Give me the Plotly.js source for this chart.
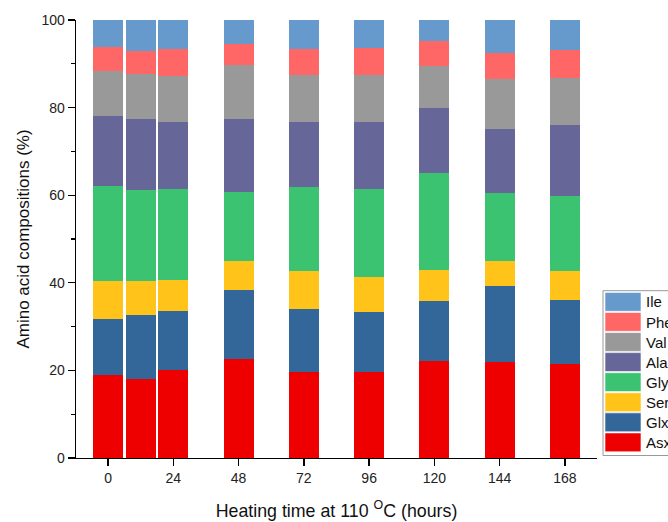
<!DOCTYPE html>
<html>
<head>
<meta charset="utf-8">
<script src="https://cdn.plot.ly/plotly-3.0.1.min.js"></script>
<style>html,body{margin:0;padding:0;background:#fff;}#chart{width:668px;height:522px;}</style>
</head>
<body>
<div id="chart"></div>
<script>
// Heating time (hours) of each bar
const hours = [0, 12, 24, 48, 72, 96, 120, 144, 168];
const tickHours = [0, 24, 48, 72, 96, 120, 144, 168];

// Amino acid composition (%) per heating time, bottom to top of stack
const asx = [18.9, 18.1, 20.0, 22.6, 19.6, 19.6, 22.2, 21.9, 21.5];
const glx = [12.8, 14.6, 13.6, 15.7, 14.4, 13.8, 13.7, 17.3, 14.6];
const ser = [8.8, 7.6, 7.1, 6.6, 8.8, 8.0, 7.1, 5.7, 6.5];
const gly = [21.7, 21.0, 20.7, 15.9, 19.1, 20.1, 22.1, 15.6, 17.3];
const ala = [15.9, 16.1, 15.3, 16.7, 14.8, 15.1, 14.9, 14.6, 16.1];
const val = [10.3, 10.3, 10.6, 12.2, 10.7, 10.8, 9.4, 11.4, 10.8];
const phe = [5.5, 5.2, 6.0, 4.9, 5.9, 6.2, 5.7, 6.0, 6.4];
const ile = [6.1, 7.1, 6.7, 5.4, 6.7, 6.4, 4.9, 7.5, 6.8];

const seriesNames = ['Asx', 'Glx', 'Ser', 'Gly', 'Ala', 'Val', 'Phe', 'Ile'];
const seriesValues = [asx, glx, ser, gly, ala, val, phe, ile];
const seriesColors = ['#EE0000', '#336699', '#FFC31A', '#3CC371', '#666699', '#999999', '#FF6666', '#6699CC'];

const traces = seriesNames.map((n, i) => ({
  type: 'bar',
  name: n,
  x: hours,
  y: seriesValues[i],
  width: 11,
  marker: {color: seriesColors[i], line: {width: 0}},
  showlegend: false,
  hoverinfo: 'x+y+name'
}));

// plot area in pixels
const W = 668, H = 522;
const L = 76, R = 597, T = 20, B = 458.5;
const px2x = p => (p - L) / (R - L);
const px2y = p => (B - p) / (B - T);

// custom legend (top to bottom: reverse of stacking order)
const shapes = [];
const annotations = [];
const legLeft = 603, legTop = 291, legBottom = 456, itemH = 20.1;
shapes.push({type: 'rect', xref: 'paper', yref: 'paper',
  x0: px2x(legLeft), x1: px2x(700), y0: px2y(legBottom), y1: px2y(legTop),
  line: {color: '#999999', width: 1}, fillcolor: 'rgba(0,0,0,0)'});
const order = seriesNames.map((_, i) => seriesNames.length - 1 - i);
order.forEach((si, k) => {
  const top = legTop + 1.7 + k * itemH;
  shapes.push({type: 'rect', xref: 'paper', yref: 'paper',
    x0: px2x(605), x1: px2x(641), y0: px2y(top + itemH - 1.2), y1: px2y(top),
    line: {color: 'rgba(255,255,255,0.6)', width: 1}, fillcolor: seriesColors[si]});
  annotations.push({xref: 'paper', yref: 'paper', x: px2x(644), y: px2y(top + itemH / 2 - 0.5),
    xanchor: 'left', yanchor: 'middle', showarrow: false, text: seriesNames[si],
    font: {family: 'Liberation Sans, Arial, sans-serif', size: 15, color: '#111'}});
});

const layout = {
  width: W, height: H,
  margin: {l: L, r: W - R, t: T, b: H - B, pad: 0, autoexpand: false},
  paper_bgcolor: '#fff', plot_bgcolor: '#fff',
  barmode: 'stack',
  font: {family: 'Liberation Sans, Arial, sans-serif', size: 14, color: '#222'},
  xaxis: {
    range: [-11.8, 179.8],
    tickvals: tickHours, ticktext: tickHours.map(String),
    ticks: 'outside', ticklen: 7, tickwidth: 1.3, tickcolor: '#000',
    showline: true, linecolor: '#000', linewidth: 1.3,
    showgrid: false, zeroline: false,
    tickfont: {size: 14, color: '#222'},
    title: {text: 'Heating time at 110 <sup>O</sup>C (hours)', font: {size: 17.8, color: '#111'}, standoff: 19}
  },
  yaxis: {
    range: [0, 100], dtick: 20, tick0: 0,
    ticks: 'outside', ticklen: 7, tickwidth: 1.3, tickcolor: '#000',
    minor: {dtick: 10, ticks: 'outside', ticklen: 4, tickwidth: 1.3, tickcolor: '#000', showgrid: false},
    showline: true, linecolor: '#000', linewidth: 1.3,
    showgrid: false, zeroline: false,
    tickfont: {size: 14, color: '#222'},
    title: {text: 'Amino acid compositions (%)', font: {size: 17, color: '#111'}, standoff: 7}
  },
  shapes: shapes,
  annotations: annotations,
  showlegend: false
};

Plotly.newPlot('chart', traces, layout, {displayModeBar: false, staticPlot: true});
</script>
</body>
</html>
